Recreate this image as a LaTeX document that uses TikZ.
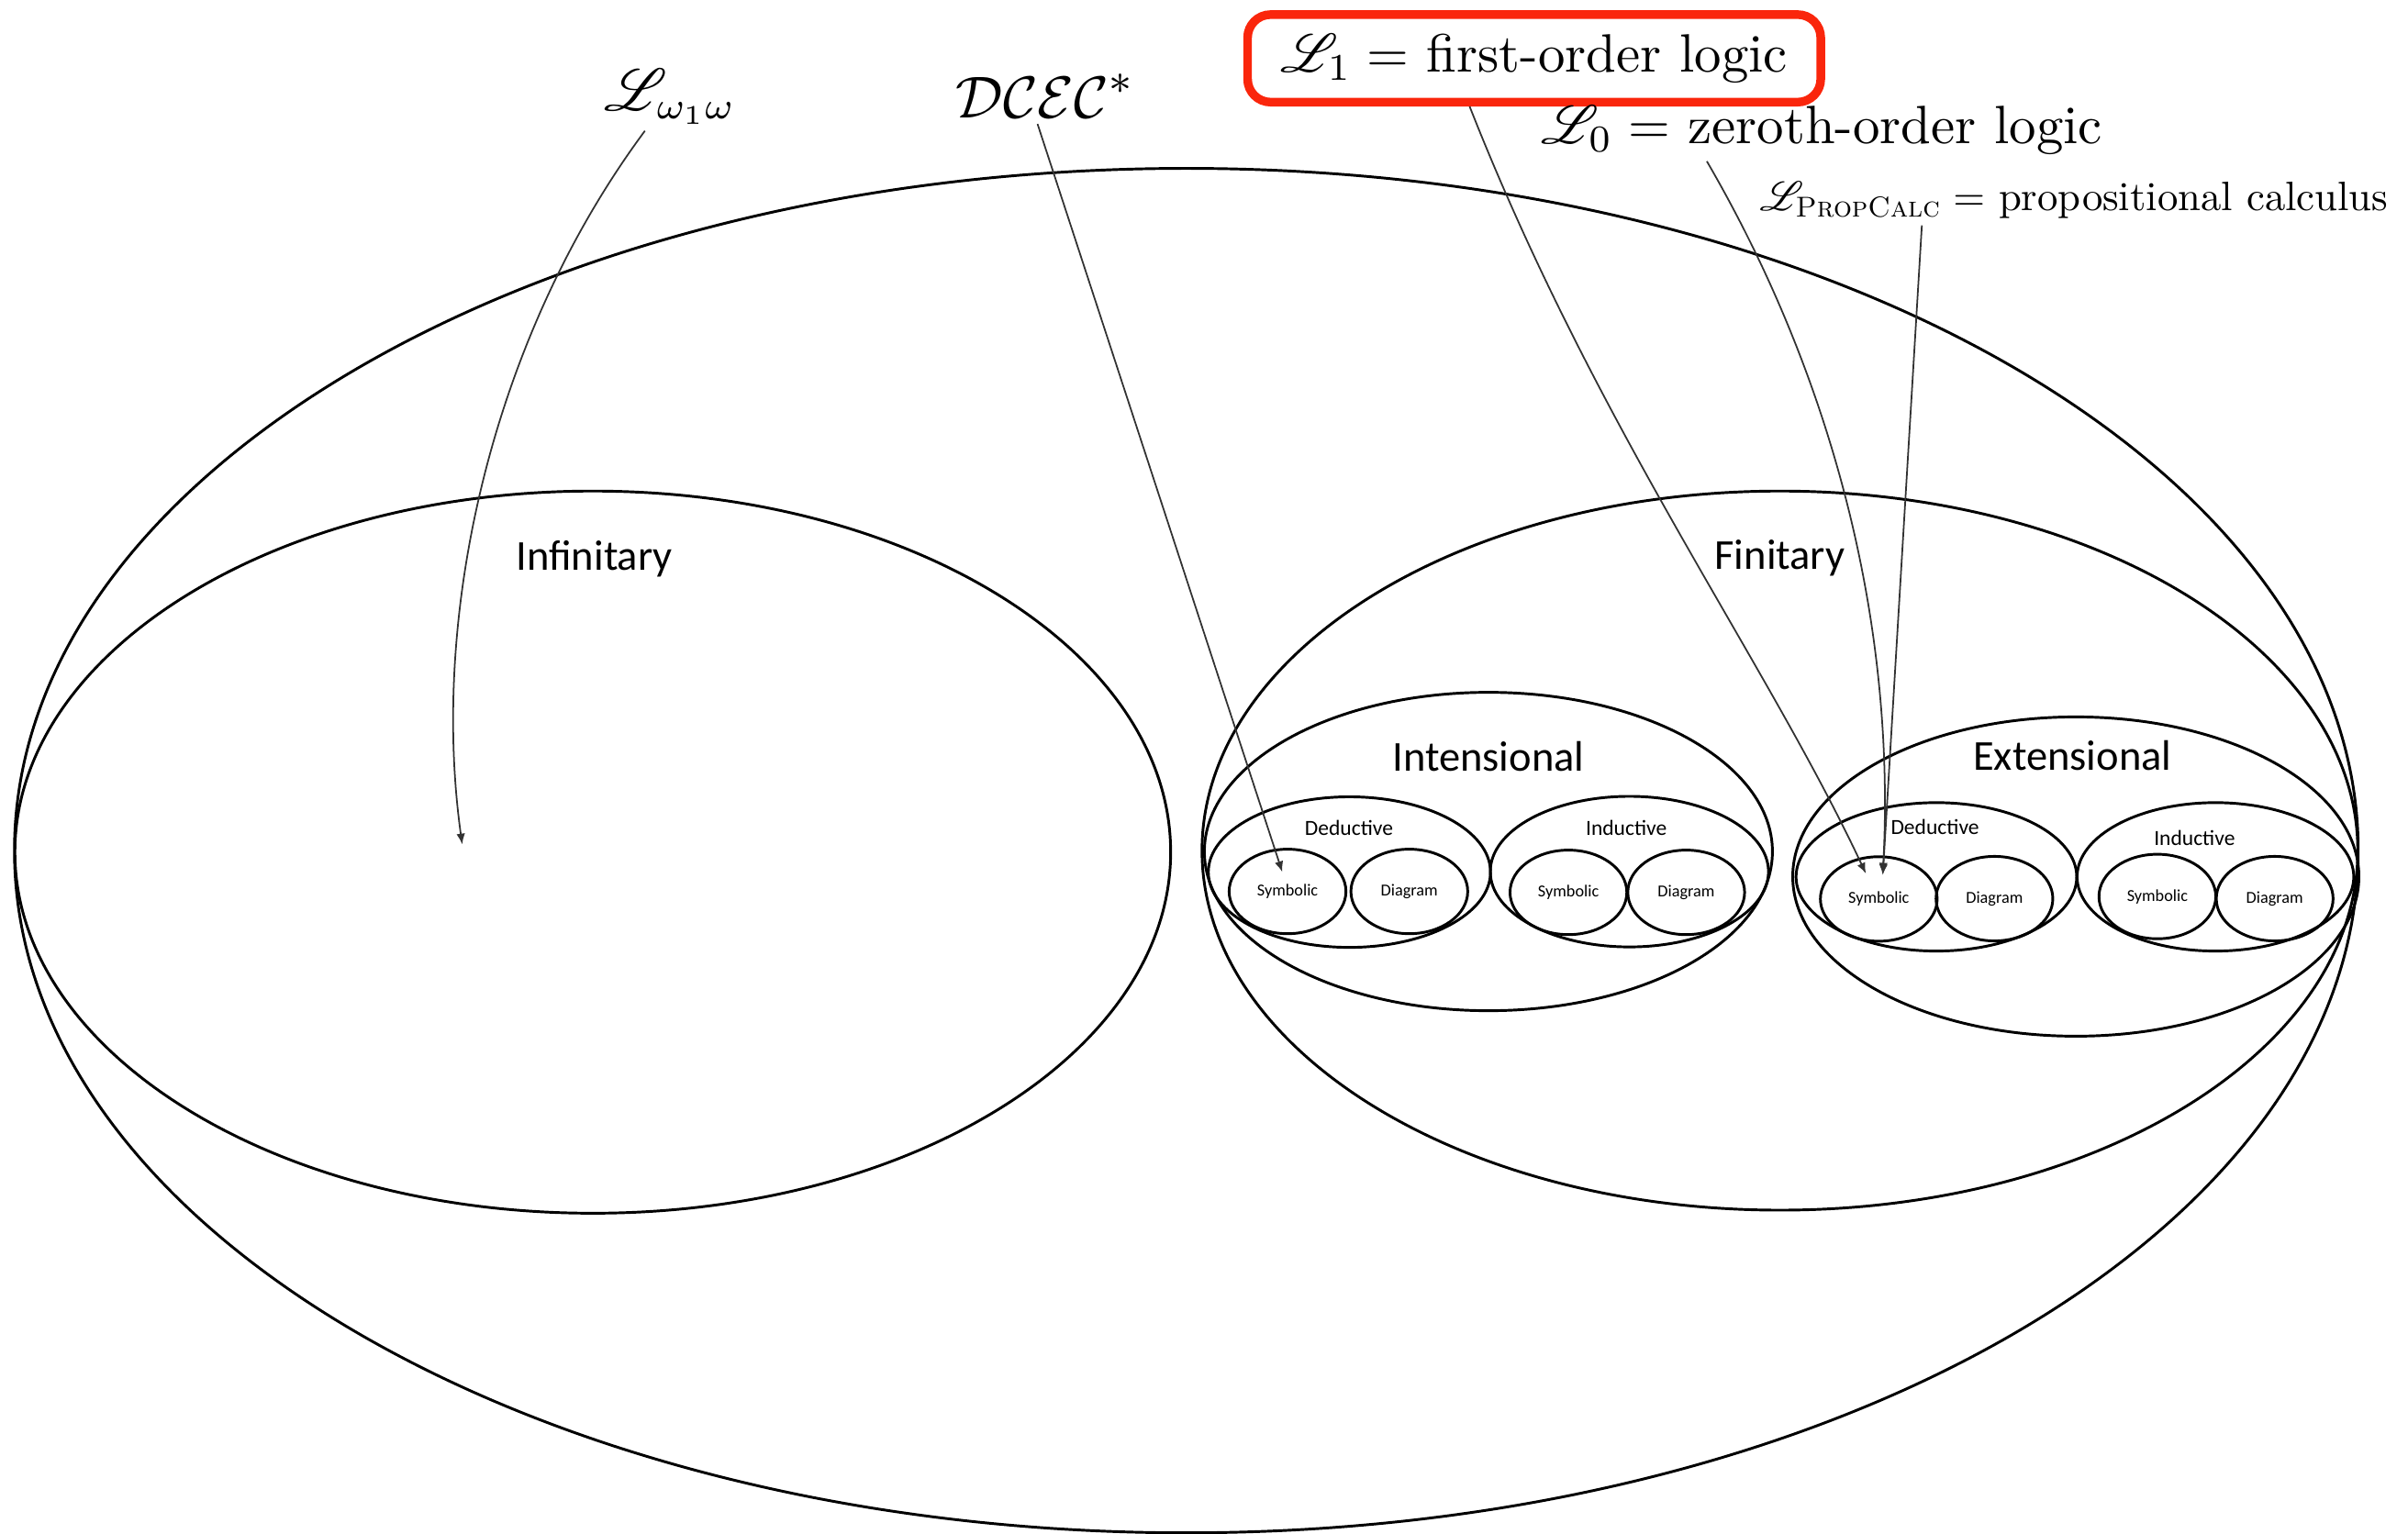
\documentclass[tikz,border=0pt]{standalone}
\usepackage{fontspec}
\setsansfont{Carlito}
\usepackage{amsmath}
\usepackage{mathrsfs}
\usetikzlibrary{shapes.geometric, arrows.meta, positioning, calc}
\definecolor{hlred}{RGB}{250,38,12}
\definecolor{ptrgray}{RGB}{50,50,50}

\begin{document}
\begin{tikzpicture}[x=0.01cm, y=-0.01cm,
  zone/.style 2 args={ellipse, draw, line width=0.5pt, inner sep=0pt, minimum width=#1*0.02cm, minimum height=#2*0.02cm},
  cell/.style={zone={38}{27.5}, font=\fontsize{3.1}{3.5}\sffamily},
  big/.style={anchor=base, inner sep=1pt, font=\fontsize{7.9}{9}\sffamily},
  mid/.style={anchor=base, inner sep=1pt, font=\fontsize{4}{5}\sffamily},
  tag/.style={anchor=base, inner sep=1pt, font=\fontsize{10}{12}\selectfont},
  hilite/.style={draw=hlred, line width=1.6pt, rounded corners=0.15cm, minimum width=3.73cm, minimum height=0.57cm, inner sep=0pt, font=\fontsize{10}{12}\selectfont},
  ptr/.style={-{Latex[length=2pt, width=1.6pt]}, line width=0.3pt, draw=ptrgray}
]
\useasboundingbox (0,0) rectangle (1568,999);
% the whole and its two halves
\node[zone={762.5}{444}] (all) at (772.5,554) {};
\node[zone={376}{235}] (infin) at (386,555) {};
\node[zone={376}{234}] (fin) at (1159,554) {};
\node[big] (infinlbl) at (387,371.5) {Infinitary};
\node[big] (finlbl) at (1159,370.5) {Finitary};
% intensional
\node[zone={184.8}{103.6}] (inten) at (969.2,554.6) {};
\node[zone={91.8}{49}] (ided) at (878.7,568) {};
\node[zone={90.5}{49}] (iind) at (1061,567.7) {};
\node[big] (intenlbl) at (969.2,502) {Intensional};
\node[mid] (idedlbl) at (878.4,543.8) {Deductive};
\node[mid] (iindlbl) at (1059,543.8) {Inductive};
\node[cell] (idsym) at (838.4,580.6) {Symbolic};
\node[cell] (iddia) at (917.7,580.6) {Diagram};
\node[cell] (iisym) at (1021.3,581.2) {Symbolic};
\node[cell] (iidia) at (1098,581.2) {Diagram};
% extensional
\node[zone={184.2}{103.9}] (exten) at (1351.7,570.9) {};
\node[zone={91.3}{48.3}] (eded) at (1260.9,571.1) {};
\node[zone={90}{48.3}] (eind) at (1442.6,571.1) {};
\node[big] (extenlbl) at (1349.5,501.9) {Extensional};
\node[mid] (ededlbl) at (1260,543.7) {Deductive};
\node[mid] (eindlbl) at (1429,550.7) {Inductive};
\node[cell] (edsym) at (1223.4,585.5) {Symbolic};
\node[cell] (eddia) at (1298.7,585.3) {Diagram};
\node[cell] (eisym) at (1404.8,583.9) {Symbolic};
\node[cell] (eidia) at (1481.2,585.3) {Diagram};
% logics
\node[tag, font=\fontsize{10.5}{12}\selectfont] (lomega) at (436.5,71.7) {$\mathscr{L}_{\omega_1\omega}$};
\node[tag, font=\fontsize{11}{13}\selectfont] (dcec) at (680.6,76.5) {$\mathcal{DCEC}^*$};
\node[hilite] (lone) at (999,38) {$\mathscr{L}_1 =$ first-order logic};
\node[tag] (lzero) at (1186.5,93.6) {$\mathscr{L}_0 =$ zeroth-order logic};
\node[tag] (lprop) at (1350.5,137.4) {\scalebox{0.76}{$\mathscr{L}_{\textsc{PropCalc}} =$ propositional calculus}};
\coordinate (dcecfoot) at ([xshift=-0.05cm]dcec.south);
\coordinate (lonefoot) at ([xshift=-0.42cm]lone.south);
\coordinate (lzerofoot) at ([xshift=-0.75cm]lzero.south);
\coordinate (lpropfoot) at ([xshift=-0.99cm]lprop.south);
\coordinate (tipomega) at (301,550);
\coordinate (tipdcec) at (835,568);
\coordinate (tipone) at (1215,569);
\coordinate (tipzero) at (1226,569);
\coordinate (tipprop) at (1226,570);
\draw[ptr] (lomega) .. controls (320,220) and (280,400) .. (tipomega);
\draw[ptr] (dcecfoot) -- (tipdcec);
\draw[ptr] (lonefoot) .. controls (1040,280) and (1150,430) .. (tipone);
\draw[ptr] (lzerofoot) .. controls (1190,240) and (1235,400) .. (tipzero);
\draw[ptr] (lpropfoot) -- (tipprop);
\end{tikzpicture}
\end{document}
